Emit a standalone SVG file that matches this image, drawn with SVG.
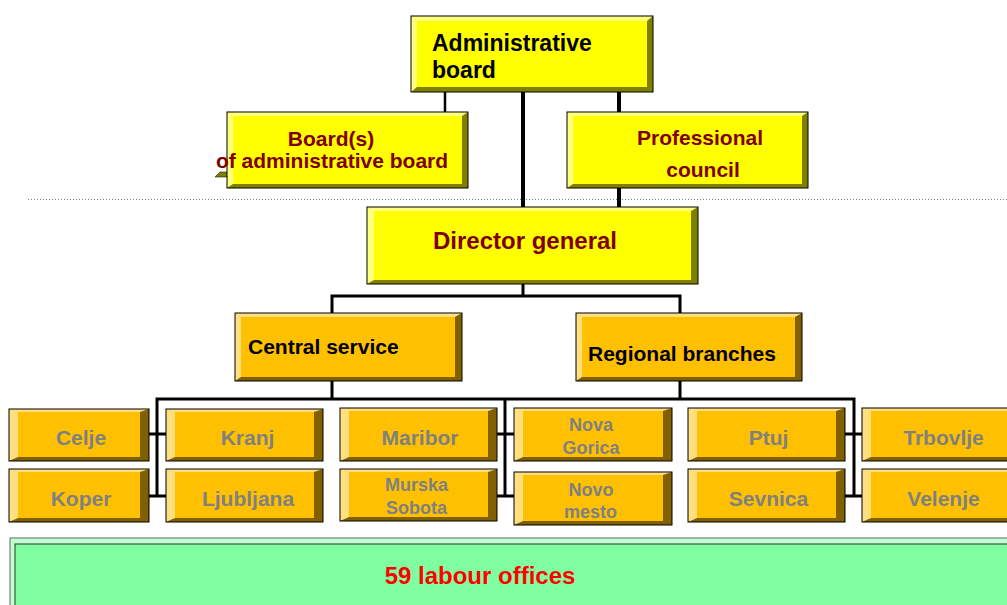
<svg xmlns="http://www.w3.org/2000/svg" width="1007" height="605" viewBox="0 0 1007 605">
<style>
text{font-family:"Liberation Sans",Arial,sans-serif;font-weight:bold}
.yd{fill:#808000}.yl{fill:#FFFF80}.yf{fill:#FFFF00}
.ad{fill:#806000}.al{fill:#FFDF80}.af{fill:#FFC000}
.edge{fill:none;stroke:#000;stroke-width:1}
.t-red{fill:#800000;font-size:21px;text-anchor:middle}
.t-blk{fill:#000;font-size:21px}
.t-gray{fill:#808080;font-size:21px;text-anchor:middle}
.t-gs{fill:#808080;font-size:18px;text-anchor:middle}
.ln{fill:none;stroke:#000;stroke-linejoin:miter}
</style>
<rect width="1007" height="605" fill="#fff"/>
<line x1="28" y1="199.5" x2="1007" y2="199.5" stroke="#808080" stroke-width="1" stroke-dasharray="1,2"/>

<g id="connectors">
<line class="ln" x1="445" y1="92" x2="445" y2="112" stroke-width="2.5"/>
<line class="ln" x1="523" y1="92" x2="523" y2="207" stroke-width="4"/>
<line class="ln" x1="619" y1="92" x2="619" y2="112" stroke-width="4"/>
<line class="ln" x1="619" y1="188" x2="619" y2="207" stroke-width="4"/>
<line class="ln" x1="523" y1="284" x2="523" y2="296" stroke-width="3"/>
<polyline class="ln" points="332,313 332,296 680,296 680,313" stroke-width="3"/>
<line class="ln" x1="332" y1="381" x2="332" y2="399" stroke-width="3"/>
<line class="ln" x1="680" y1="381" x2="680" y2="399" stroke-width="3"/>
<polyline class="ln" points="157,497 157,399 854,399 854,497" stroke-width="3"/>
<line class="ln" x1="505" y1="399" x2="505" y2="497" stroke-width="3"/>
<line class="ln" x1="149" y1="434" x2="166" y2="434" stroke-width="3"/>
<line class="ln" x1="149" y1="496" x2="166" y2="496" stroke-width="3"/>
<line class="ln" x1="497" y1="434" x2="514" y2="434" stroke-width="3"/>
<line class="ln" x1="497" y1="496" x2="514" y2="496" stroke-width="3"/>
<line class="ln" x1="845" y1="434" x2="862" y2="434" stroke-width="3"/>
<line class="ln" x1="845" y1="496" x2="862" y2="496" stroke-width="3"/>
</g>

<g id="admin-board">
<rect class="yd" x="411" y="16" width="242" height="76"/>
<polygon class="yl" points="411,16 653,16 647,21 417,21 417,87 411,92"/>
<rect class="yf" x="417" y="21" width="230" height="66"/>
<rect class="edge" x="411" y="16" width="242" height="76"/>
<text class="t-blk" x="432" y="51" font-size="23" style="font-size:23px">Administrative</text>
<text class="t-blk" x="432" y="78" style="font-size:23px">board</text>
</g>

<g id="boards">
<polygon points="215,177 220,172 233,172 233,177" fill="#808000" stroke="#000" stroke-width="0.5"/>
<rect class="yd" x="227" y="112" width="241" height="76"/>
<polygon class="yl" points="227,112 468,112 462,116 233,116 233,184 227,188"/>
<rect class="yf" x="233" y="116" width="229" height="68"/>
<rect class="edge" x="227" y="112" width="241" height="76"/>
<text class="t-red" x="331" y="146">Board(s)</text>
<text class="t-red" x="332" y="168">of administrative board</text>
</g>

<g id="professional-council">
<rect class="yd" x="567" y="112" width="241" height="76"/>
<polygon class="yl" points="567,112 808,112 802,116 573,116 573,184 567,188"/>
<rect class="yf" x="573" y="116" width="229" height="68"/>
<rect class="edge" x="567" y="112" width="241" height="76"/>
<text class="t-red" x="700" y="145">Professional</text>
<text class="t-red" x="703" y="177">council</text>
</g>

<g id="director-general">
<rect class="yd" x="367" y="207" width="331" height="77"/>
<polygon class="yl" points="367,207 698,207 691,211 374,211 374,280 367,284"/>
<rect class="yf" x="374" y="211" width="317" height="69"/>
<rect class="edge" x="367" y="207" width="331" height="77"/>
<text class="t-red" x="525" y="249" style="font-size:24px">Director general</text>
</g>

<g id="central-service">
<rect class="ad" x="235" y="313" width="227" height="68"/>
<polygon class="al" points="235,313 462,313 455,317 241,317 241,377 235,381"/>
<rect class="af" x="241" y="317" width="214" height="60"/>
<rect class="edge" x="235" y="313" width="227" height="68"/>
<text class="t-blk" x="248" y="354">Central service</text>
</g>

<g id="regional-branches">
<rect class="ad" x="576" y="313" width="226" height="68"/>
<polygon class="al" points="576,313 802,313 795,317 582,317 582,377 576,381"/>
<rect class="af" x="582" y="317" width="213" height="60"/>
<rect class="edge" x="576" y="313" width="226" height="68"/>
<text class="t-blk" x="588" y="361">Regional branches</text>
</g>

<g id="celje">
<rect class="ad" x="9" y="409" width="140" height="52"/>
<polygon class="al" points="9,409 149,409 140,412 18,412 18,457 9,461"/>
<rect class="af" x="18" y="412" width="122" height="45"/>
<rect class="edge" x="9" y="409" width="140" height="52"/>
<text class="t-gray" x="81" y="445">Celje</text>
</g>
<g id="kranj">
<rect class="ad" x="166" y="409" width="157" height="52"/>
<polygon class="al" points="166,409 323,409 314,412 175,412 175,457 166,461"/>
<rect class="af" x="175" y="412" width="139" height="45"/>
<rect class="edge" x="166" y="409" width="157" height="52"/>
<text class="t-gray" x="247.5" y="445">Kranj</text>
</g>
<g id="koper">
<rect class="ad" x="9" y="469" width="140" height="53"/>
<polygon class="al" points="9,469 149,469 140,472 18,472 18,518 9,522"/>
<rect class="af" x="18" y="472" width="122" height="46"/>
<rect class="edge" x="9" y="469" width="140" height="53"/>
<text class="t-gray" x="81" y="506">Koper</text>
</g>
<g id="ljubljana">
<rect class="ad" x="166" y="469" width="157" height="53"/>
<polygon class="al" points="166,469 323,469 314,472 175,472 175,518 166,522"/>
<rect class="af" x="175" y="472" width="139" height="46"/>
<rect class="edge" x="166" y="469" width="157" height="53"/>
<text class="t-gray" x="248" y="506">Ljubljana</text>
</g>
<g id="maribor">
<rect class="ad" x="340" y="408" width="157" height="53"/>
<polygon class="al" points="340,408 497,408 488,411 349,411 349,457 340,461"/>
<rect class="af" x="349" y="411" width="139" height="46"/>
<rect class="edge" x="340" y="408" width="157" height="53"/>
<text class="t-gray" x="420" y="445">Maribor</text>
</g>
<g id="nova-gorica">
<rect class="ad" x="514" y="408" width="158" height="53"/>
<polygon class="al" points="514,408 672,408 663,411 523,411 523,457 514,461"/>
<rect class="af" x="523" y="411" width="140" height="46"/>
<rect class="edge" x="514" y="408" width="158" height="53"/>
<text class="t-gs" x="591" y="431">Nova</text>
<text class="t-gs" x="591" y="454">Gorica</text>
</g>
<g id="murska-sobota">
<rect class="ad" x="340" y="469" width="157" height="52"/>
<polygon class="al" points="340,469 497,469 488,472 349,472 349,517 340,521"/>
<rect class="af" x="349" y="472" width="139" height="45"/>
<rect class="edge" x="340" y="469" width="157" height="52"/>
<text class="t-gs" x="416.5" y="491">Murska</text>
<text class="t-gs" x="416.5" y="514">Sobota</text>
</g>
<g id="novo-mesto">
<rect class="ad" x="514" y="472" width="158" height="53"/>
<polygon class="al" points="514,472 672,472 663,475 523,475 523,521 514,525"/>
<rect class="af" x="523" y="475" width="140" height="46"/>
<rect class="edge" x="514" y="472" width="158" height="53"/>
<text class="t-gs" x="591" y="496">Novo</text>
<text class="t-gs" x="590.5" y="518">mesto</text>
</g>
<g id="ptuj">
<rect class="ad" x="688" y="408" width="157" height="53"/>
<polygon class="al" points="688,408 845,408 836,411 697,411 697,457 688,461"/>
<rect class="af" x="697" y="411" width="139" height="46"/>
<rect class="edge" x="688" y="408" width="157" height="53"/>
<text class="t-gray" x="768.5" y="445">Ptuj</text>
</g>
<g id="trbovlje">
<rect class="ad" x="862" y="408" width="157" height="53"/>
<polygon class="al" points="862,408 1019,408 1010,411 871,411 871,457 862,461"/>
<rect class="af" x="871" y="411" width="139" height="46"/>
<rect class="edge" x="862" y="408" width="157" height="53"/>
<text class="t-gray" x="943.5" y="445">Trbovlje</text>
</g>
<g id="sevnica">
<rect class="ad" x="688" y="469" width="157" height="53"/>
<polygon class="al" points="688,469 845,469 836,472 697,472 697,518 688,522"/>
<rect class="af" x="697" y="472" width="139" height="46"/>
<rect class="edge" x="688" y="469" width="157" height="53"/>
<text class="t-gray" x="768.5" y="506">Sevnica</text>
</g>
<g id="velenje">
<rect class="ad" x="862" y="469" width="157" height="53"/>
<polygon class="al" points="862,469 1019,469 1010,472 871,472 871,518 862,522"/>
<rect class="af" x="871" y="472" width="139" height="46"/>
<rect class="edge" x="862" y="469" width="157" height="53"/>
<text class="t-gray" x="943.5" y="506">Velenje</text>
</g>

<g id="labour-offices">
<rect x="10" y="538" width="1010" height="80" fill="#40C060"/>
<polygon points="10,538 1020,538 1015,544 15,544 15,618 10,618" fill="#C0FFD0"/>
<rect x="15" y="544" width="1000" height="70" fill="#80FFA0" stroke="#333" stroke-width="1"/>
<rect x="10" y="538" width="1010" height="80" fill="none" stroke="#666" stroke-width="1"/>
<text x="480" y="584" fill="#FF0000" text-anchor="middle" style="font-size:24px">59 labour offices</text>
</g>
</svg>
